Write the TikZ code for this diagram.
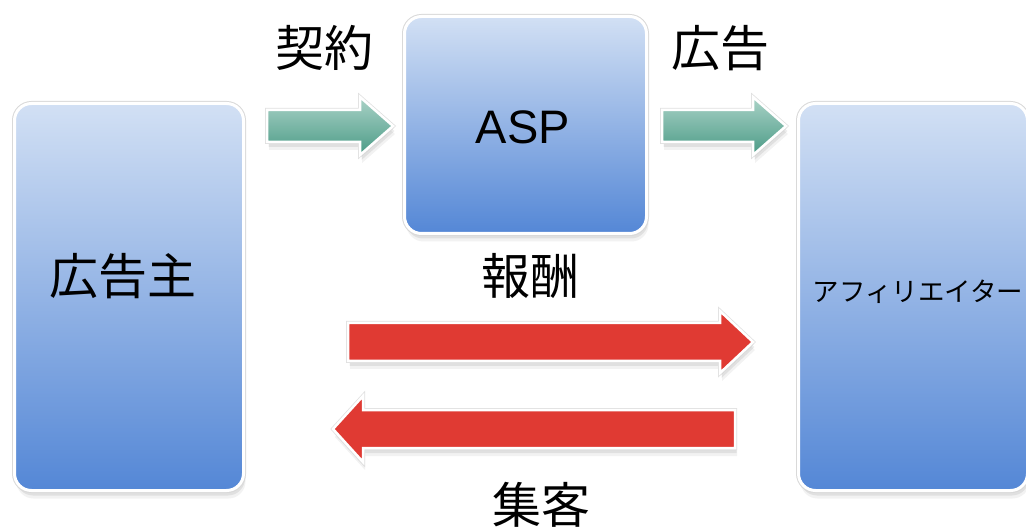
\documentclass[tikz,border=0pt]{standalone}
\usepackage{fontspec}
\setmainfont{Liberation Sans}
\newfontfamily\jp{Noto Sans CJK JP}
\usetikzlibrary{shadows}
\definecolor{boxtop}{HTML}{D2E0F4}
\definecolor{boxbot}{HTML}{5487D6}
\definecolor{tealtop}{HTML}{AAD3C7}
\definecolor{tealbot}{HTML}{4B9A86}
\definecolor{arrred}{HTML}{E03A33}
\begin{document}
\begin{tikzpicture}[x=1pt,y=-1pt,
  softshadow/.style={
    drop shadow={shadow xshift=1pt,shadow yshift=-2pt,opacity=0.10,fill=black},
    drop shadow={shadow xshift=1.5pt,shadow yshift=-5pt,opacity=0.07,fill=black},
    drop shadow={shadow xshift=2pt,shadow yshift=-8pt,opacity=0.05,fill=black}},
  bluebox/.style={softshadow, rectangle, rounded corners=17pt, inner sep=0pt,
    preaction={draw=black!15, line width=5pt},
    top color=boxtop, bottom color=boxbot, draw=white, line width=3pt},
  tealarrow/.style={softshadow, preaction={draw=black!12, line width=4pt},
    top color=tealtop, bottom color=tealbot, draw=white, line width=2.5pt, line join=miter},
  redarrow/.style={softshadow, preaction={draw=black!12, line width=4pt},
    fill=arrred, draw=white, line width=2.5pt, line join=miter},
  jpbig/.style={font=\jp\fontsize{49pt}{49pt}\selectfont, inner sep=0pt},
  jpsmall/.style={font=\jp\fontsize{26.5pt}{26.5pt}\selectfont, inner sep=0pt}
]
\useasboundingbox (0,0) rectangle (1026,529);
\fill[white] (0,0) rectangle (1026,529);

% boxes
\node[bluebox, minimum width=229pt, minimum height=387pt] (adv) at (129,297) {};
\node[bluebox, minimum width=242pt, minimum height=217pt,
      font=\fontsize{47pt}{47pt}\selectfont] (asp) at (525.5,125) {};
\node[bluebox, minimum width=229pt, minimum height=387pt] (aff) at (913,297) {};

% block arrows
\path[tealarrow] (267,110) -- (360,110) -- (360,97) -- (393,126) -- (360,155) -- (360,142) -- (267,142) -- cycle;
\path[tealarrow] (662,110) -- (753,110) -- (753,97) -- (786,126) -- (753,155) -- (753,142) -- (662,142) -- cycle;
\path[redarrow] (348,323) -- (720,323) -- (720,311) -- (753,342) -- (720,373) -- (720,361) -- (348,361) -- cycle;
\path[redarrow] (735,410) -- (363,410) -- (363,396) -- (333,429) -- (363,462) -- (363,448) -- (735,448) -- cycle;

% labels
\node[font=\fontsize{47pt}{47pt}\selectfont, inner sep=0pt] (asplabel) at (523,127) {ASP};
\node[jpbig] (advlabel) at (123,276) {広告主};
\node[jpsmall] (afflabel) at (918,292) {アフィリエイター};
\node[jpbig] (keiyaku) at (324,48) {契約};
\node[jpbig] (koukoku) at (720,48) {広告};
\node[jpbig] (housyuu) at (530,276) {報酬};
\node[jpbig] (syuukyaku) at (541,505) {集客};
\end{tikzpicture}
\end{document}
